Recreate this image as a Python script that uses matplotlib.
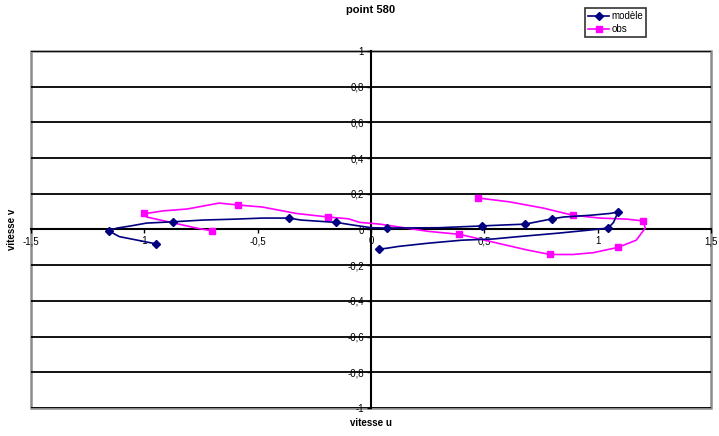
import matplotlib
matplotlib.use("Agg")
import matplotlib.pyplot as plt
import numpy as np

plt.rcParams['font.family'] = ['Liberation Sans', 'DejaVu Sans']

# --- données ---
modele_u = [-0.95, -1.03, -1.11, -1.157, -1.12, -1.06, -0.99, -0.875, -0.74, -0.60,
            -0.48, -0.36, -0.31, -0.18, -0.155, -0.08, -0.02, 0.0, 0.07, 0.30,
            0.49, 0.525, 0.60, 0.68, 0.74, 0.80, 0.85, 0.97, 1.055, 1.09,
            1.07, 1.047, 0.95, 0.83, 0.65, 0.54, 0.40, 0.25, 0.12, 0.07, 0.035]
modele_v = [-0.08, -0.06, -0.04, -0.008, 0.008, 0.02, 0.036, 0.043, 0.053, 0.058,
            0.064, 0.064, 0.053, 0.042, 0.04, 0.025, 0.014, 0.01, 0.008, 0.01,
            0.02, 0.022, 0.026, 0.03, 0.045, 0.06, 0.07, 0.08, 0.09, 0.098,
            0.04, 0.008, -0.005, -0.02, -0.04, -0.053, -0.06, -0.077, -0.095, -0.105, -0.11]
modele_marks = [0, 3, 7, 11, 14, 18, 20, 23, 25, 29, 31, 40]

obs_u = [0.47, 0.61, 0.76, 0.89, 1.01, 1.13, 1.20, 1.21, 1.17, 1.09,
         0.98, 0.89, 0.79, 0.69, 0.57, 0.47, 0.39, 0.25, 0.04, -0.05,
         -0.10, -0.19, -0.33, -0.48, -0.585, -0.67, -0.81, -0.92, -0.98, -1.0,
         -0.99, -0.89, -0.77, -0.70]
obs_v = [0.177, 0.155, 0.12, 0.08, 0.064, 0.058, 0.048, 0.008, -0.06, -0.10,
         -0.13, -0.14, -0.14, -0.115, -0.08, -0.05, -0.027, -0.01, 0.03, 0.04,
         0.06, 0.07, 0.09, 0.126, 0.137, 0.148, 0.115, 0.104, 0.092, 0.09,
         0.07, 0.042, 0.008, -0.008]
obs_marks = [0, 3, 6, 9, 12, 16, 21, 24, 29, 33]

x_ticks = [-1.5, -1, -0.5, 0, 0.5, 1, 1.5]
x_labels = ['-1,5', '-1', '-0,5', '0', '0,5', '1', '1,5']
y_ticks = [-1, -0.8, -0.6, -0.4, -0.2, 0, 0.2, 0.4, 0.6, 0.8, 1]
y_labels = ['-1', '-0,8', '-0,6', '-0,4', '-0,2', '0', '0,2', '0,4', '0,6', '0,8', '1']

fig = plt.figure(figsize=(7.19, 4.36), dpi=100)
ax = fig.add_axes([31 / 719, 28 / 436, 680 / 719, 357 / 436])

ax.plot(modele_u, modele_v, '-', color='#000080', lw=1.2, marker='D', markersize=4,
        markevery=modele_marks, label='modèle', zorder=4)
ax.plot(obs_u, obs_v, '-', color='#FF00FF', lw=1.2, marker='s', markersize=3.8,
        markevery=obs_marks, label='obs', zorder=3)

ax.set_xlim(-1.5, 1.5)
ax.set_ylim(-1, 1)
ax.set_xticks(x_ticks)
ax.set_xticklabels(x_labels)
ax.set_yticks(y_ticks)
ax.set_yticklabels(y_labels)

# axes qui se croisent en zéro (style Excel)
ax.spines['left'].set_position(('data', 0))
ax.spines['bottom'].set_position(('data', 0))
ax.spines['left'].set_linewidth(1.5)
ax.spines['bottom'].set_linewidth(1.5)
ax.spines['top'].set_visible(False)
ax.spines['right'].set_visible(False)
ax.patch.set_edgecolor('#8c8c8c')
ax.patch.set_linewidth(1.8)

ax.tick_params(axis='both', labelsize=7, length=3, width=1, direction='out', pad=2)
ax.yaxis.grid(True, color='black', lw=1.3)
ax.set_axisbelow(True)

fig.text(371 / 719, 1 - 10 / 436, 'point 580', ha='center', va='center',
         fontsize=8, fontweight='bold')
fig.text(371 / 719, 1 - 423 / 436, 'vitesse u', ha='center', va='center',
         fontsize=7, fontweight='bold')
fig.text(12 / 719, 1 - 229 / 436, 'vitesse v', ha='center', va='center',
         fontsize=7, fontweight='bold', rotation=90)

leg = fig.legend(loc='upper left', bbox_to_anchor=(585 / 719, 1 - 8 / 436),
                 fontsize=7, frameon=True, fancybox=False, handlelength=2.2,
                 borderpad=0.3, labelspacing=0.35, handletextpad=0.2,
                 borderaxespad=0)
leg.get_frame().set_edgecolor('black')
leg.get_frame().set_linewidth(1.2)

fig.savefig('out.png', dpi=100)
